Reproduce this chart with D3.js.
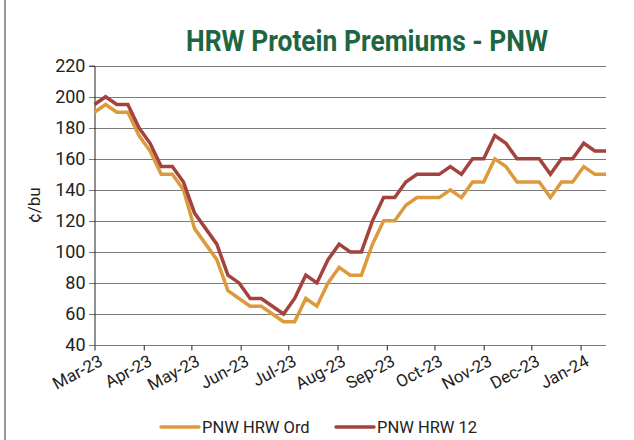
<!DOCTYPE html>
<html>
<head>
<meta charset="utf-8">
<script src="https://cdn.jsdelivr.net/npm/d3@7"></script>
<style>
  body { margin: 0; background: #fff; }
  svg text { font-family: Roboto, "Noto Sans", sans-serif; fill: #222; }
</style>
</head>
<body>
<svg id="chart" width="634" height="440"></svg>
<script>
// weekly quotes, first one on 1 Mar 2023
const startDate = "2023-03-01";
const ordValues = [190, 195, 190, 190, 175, 165, 150, 150, 140, 115, 105, 95, 75, 70, 65, 65,
  60, 55, 55, 70, 65, 80, 90, 85, 85, 105, 120, 120, 130, 135, 135, 135, 140, 135, 145, 145,
  160, 155, 145, 145, 145, 135, 145, 145, 155, 150, 150];
const hrw12Values = [195, 200, 195, 195, 180, 170, 155, 155, 145, 125, 115, 105, 85, 80, 70, 70,
  65, 60, 70, 85, 80, 95, 105, 100, 100, 120, 135, 135, 145, 150, 150, 150, 155, 150, 160, 160,
  175, 170, 160, 160, 160, 150, 160, 160, 170, 165, 165];
const yTicks = [40, 60, 80, 100, 120, 140, 160, 180, 200, 220];
const seriesNames = ["PNW HRW Ord", "PNW HRW 12"];
const seriesColors = ["#dc9a3c", "#a2433e"];

const dates = ordValues.map((d, i) => d3.utcDay.offset(new Date(startDate + "T00:00:00Z"), 7 * i));
const series = [ordValues, hrw12Values];

const svg = d3.select("#chart");

const x = d3.scaleUtc()
  .domain([dates[0], dates[dates.length - 1]])
  .range([94.5, 606]);
const y = d3.scaleLinear().domain([40, 220]).range([345, 65.7]);

// frame edge on the left
svg.append("line")
  .attr("x1", 5).attr("x2", 5).attr("y1", 0).attr("y2", 440)
  .attr("stroke", "#555").attr("stroke-width", 1.2);

// title
svg.append("text")
  .attr("x", 186).attr("y", 51)
  .attr("textLength", 362).attr("lengthAdjust", "spacingAndGlyphs")
  .style("font-size", "30px").style("font-weight", "bold").style("fill", "#1e6641")
  .text("HRW Protein Premiums - PNW");

// horizontal grid
svg.append("g")
  .selectAll("line")
  .data(yTicks)
  .join("line")
  .attr("x1", 89).attr("x2", 606)
  .attr("y1", d => Math.round(y(d)) + 0.5).attr("y2", d => Math.round(y(d)) + 0.5)
  .attr("stroke", "#7a7a7a").attr("stroke-width", 1);

// y axis
const yAxis = svg.append("g")
  .attr("transform", "translate(94.5,0)")
  .call(d3.axisLeft(y).tickValues(yTicks).tickSize(5).tickPadding(4));
yAxis.select(".domain").attr("stroke", "#222");
yAxis.selectAll(".tick line").remove();
yAxis.selectAll("text").style("font-size", "18px").style("fill", "#222");

// x axis
const months = d3.utcMonth.range(new Date(Date.UTC(2023, 2, 1)), new Date(Date.UTC(2024, 1, 1)));
const xAxis = svg.append("g")
  .attr("transform", "translate(0,345.5)")
  .call(d3.axisBottom(x).tickValues(months).tickFormat(d3.utcFormat("%b-%y")).tickSize(5));
xAxis.select(".domain").attr("stroke", "#7a7a7a").attr("d", "M89,0H606");
xAxis.selectAll(".tick line").attr("stroke", "#222");
xAxis.selectAll("text")
  .style("font-size", "17px").style("fill", "#222")
  .attr("text-anchor", "end")
  .attr("transform", "translate(3,8) rotate(-28)")
  .attr("dy", "0.75em").attr("y", 0);

// ¢/bu label
svg.append("text")
  .attr("transform", "translate(40,205) rotate(-90)")
  .attr("text-anchor", "middle")
  .style("font-size", "17px")
  .text("¢/bu");

// lines
const line = d3.line()
  .x((d, i) => x(dates[i]))
  .y(d => y(d));

svg.append("g")
  .selectAll("path")
  .data(series)
  .join("path")
  .attr("d", line)
  .attr("fill", "none")
  .attr("stroke", (d, i) => seriesColors[i])
  .attr("stroke-width", 3.5)
  .attr("stroke-linejoin", "miter");

// legend
const legendX = [161, 336];
const legend = svg.append("g")
  .selectAll("g")
  .data(seriesNames)
  .join("g")
  .attr("transform", (d, i) => `translate(${legendX[i]},427)`);
legend.append("line")
  .attr("x1", 0).attr("x2", 38)
  .attr("stroke", (d, i) => seriesColors[i])
  .attr("stroke-width", 3.5).attr("stroke-linecap", "round");
legend.append("text")
  .attr("x", 41).attr("dy", "0.35em")
  .style("font-size", "16.5px")
  .text(d => d);
</script>
</body>
</html>
